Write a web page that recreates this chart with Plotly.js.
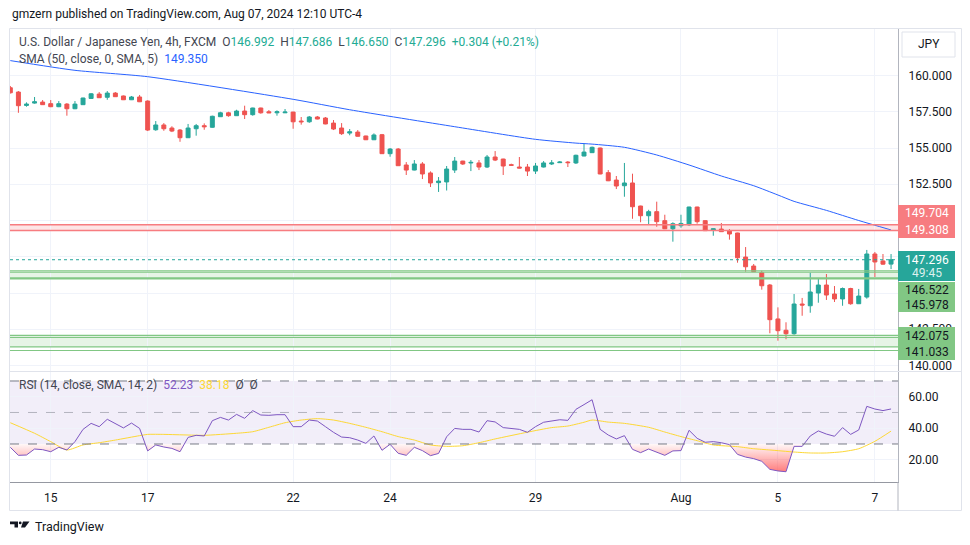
<!DOCTYPE html>
<html><head><meta charset="utf-8">
<script src="https://cdn.plot.ly/plotly-3.0.1.min.js"></script>
<style>html,body{margin:0;padding:0;background:#fff;}#chart{width:970px;height:545px;}</style>
</head><body><div id="chart"></div>
<script>
// ---------- DATA (USDJPY 4h, FXCM) ----------
const openP = [159.16,158.86,157.94,158.10,158.17,158.06,157.85,158.03,157.71,157.99,
158.42,158.72,158.50,158.79,158.59,158.33,158.52,158.24,156.26,156.59,
156.38,156.24,155.71,156.33,156.54,156.43,157.16,157.43,157.23,157.55,
157.30,157.76,157.50,157.43,157.43,157.48,156.86,156.81,157.14,157.07,
156.72,156.38,156.03,156.10,155.83,155.57,155.92,154.61,154.93,153.83,
153.48,153.90,153.28,152.61,152.66,153.48,154.10,153.97,153.97,153.69,
154.38,154.24,153.85,153.69,153.69,153.41,153.69,153.90,153.99,154.03,
153.97,154.45,154.68,155.00,153.30,152.79,152.40,152.59,151.00,150.33,
150.61,149.99,149.43,149.64,149.71,150.93,149.99,149.34,149.41,149.30,
149.14,147.48,146.86,146.40,145.55,143.21,142.43,142.19,144.24,144.12,
145.00,145.55,144.93,144.59,145.31,144.26,144.72,147.69,147.21,146.992];
const highP = [159.28,158.93,158.15,158.52,158.31,158.31,158.24,158.10,158.24,158.47,
158.79,158.86,158.93,158.86,158.62,158.59,158.66,158.29,156.86,156.72,
156.50,156.31,156.66,156.66,156.70,157.23,157.50,157.50,157.64,157.92,
157.78,157.78,157.62,157.60,157.69,157.50,157.14,157.21,157.21,157.14,
156.93,156.72,156.31,156.24,155.85,156.01,155.97,155.00,155.00,154.03,
154.17,154.03,153.39,153.00,153.76,154.38,154.12,154.17,154.17,154.52,
154.79,154.26,153.92,154.38,153.90,153.97,154.10,154.17,154.10,154.10,
154.54,155.34,155.10,155.03,153.48,153.07,153.97,153.23,151.02,150.74,
151.30,150.40,149.88,150.40,150.95,150.95,150.01,149.45,149.83,149.41,
149.16,148.17,147.00,146.54,145.62,144.01,142.98,144.93,144.66,146.40,
145.97,146.31,145.48,145.38,145.36,145.28,147.97,147.83,147.69,147.686];
const lowP = [158.76,157.43,157.85,158.06,157.97,157.82,157.82,157.23,157.68,157.97,
158.40,158.45,158.33,158.52,158.31,158.31,158.17,156.17,156.19,156.19,
156.10,155.43,155.69,155.85,156.26,156.40,157.14,157.16,157.21,157.00,
157.23,157.37,157.41,157.23,157.41,156.33,156.61,156.74,156.98,156.64,
156.24,155.90,155.88,155.79,155.55,155.55,154.59,154.40,153.76,153.14,
153.46,152.86,152.31,151.97,152.07,153.28,153.83,153.41,153.48,153.62,
154.10,153.14,153.78,153.60,153.07,153.21,153.66,153.83,153.97,153.69,
153.90,154.43,154.66,153.19,152.72,152.17,151.64,150.12,149.88,149.74,
149.57,149.41,148.54,149.50,149.62,149.78,149.28,148.95,149.21,148.68,
147.09,146.47,146.45,145.23,142.22,141.71,141.81,142.12,143.43,143.64,
144.33,144.52,144.38,144.12,144.19,144.24,144.61,146.10,146.95,146.650];
const closeP = [158.81,157.92,158.03,158.19,157.99,157.85,158.06,157.71,158.03,158.45,
158.74,158.47,158.79,158.54,158.33,158.52,158.19,156.24,156.59,156.33,
156.17,155.71,156.38,156.54,156.47,157.19,157.43,157.23,157.55,157.30,
157.76,157.43,157.43,157.50,157.48,156.81,156.81,157.14,157.00,156.66,
156.31,155.99,156.12,155.81,155.57,155.90,154.61,154.93,153.78,153.48,
153.90,153.21,152.59,152.72,153.55,154.10,153.90,154.01,153.69,154.38,
154.17,153.76,153.81,153.62,153.41,153.76,153.97,153.97,154.03,153.99,
154.50,154.72,155.05,153.21,152.74,152.38,152.59,150.95,150.33,150.61,
149.92,149.43,149.78,149.80,150.93,149.92,149.30,149.43,149.23,149.07,
147.43,146.81,146.47,145.50,143.16,142.40,142.19,144.24,144.17,145.07,
145.55,144.86,144.59,145.31,144.26,144.79,147.69,147.14,146.99,147.296];

// SMA (50, close, 0, SMA, 5) read at candle positions
const smaIdx = [0,8,17,35,42,55,65,70,72,76,80,84,88,92,95,97,101,105,109];
const smaVal = [161.03,160.36,159.92,158.36,157.64,156.47,155.60,155.34,155.27,155.05,154.52,153.83,153.07,152.40,151.76,151.32,150.70,150.00,149.35];

// RSI (14) per candle
const rsiVal = [27.9,22.8,23.0,26.8,26.4,25.1,27.9,26.2,31.5,39.3,
43.1,41.0,45.7,43.1,40.2,43.3,39.9,25.6,29.4,28.1,
27.2,25.1,34.2,35.5,35.1,44.8,46.9,45.2,48.8,46.3,
51.2,48.4,48.2,48.6,48.6,41.0,41.0,45.2,44.6,41.0,
37.4,34.4,34.0,32.5,30.4,35.1,26.0,29.8,24.1,22.8,
27.9,25.8,22.6,24.0,34.6,39.9,39.3,39.3,37.6,44.8,
44.0,40.4,39.9,39.3,37.4,41.0,43.8,44.6,45.4,45.0,
52.0,55.0,58.1,39.3,35.7,33.2,35.3,26.6,24.5,26.8,
24.9,22.8,25.6,25.8,38.7,33.6,31.1,31.5,30.8,29.6,
23.4,21.7,20.7,19.0,13.9,12.9,12.4,28.5,28.5,35.1,
38.3,36.3,34.9,40.4,36.1,38.9,53.9,52.2,51.2,52.23];
// RSI-based MA (SMA 14)
const maIdx = [0,3,5,7,9,11,13,16,17,19,22,24,28,30,32,34,36,38,40,42,44,46,48,50,52,54,56,58,60,64,67,69,71,72,74,76,79,81,83,85,87,90,92,94,97,99,101,103,105,107,109];
const maVal = [43.5,36.8,31.5,26.2,29.4,30.8,32.5,35.3,36.1,36.1,35.7,35.5,36.8,37.8,40.6,43.5,45.2,46.1,45.2,43.1,40.6,37.8,34.7,32.5,29.4,28.5,28.9,30.8,33.2,37.5,40.4,41.4,43.8,45.2,43.9,43.1,40.6,37.6,34.7,32.1,29.4,28.3,27.0,26.2,24.9,24.3,24.3,25.1,27.0,31.7,38.18];

// time axis labels (candle index of first candle of the day)
const dayTickIdx = [5,17,35,47,65,83,95,107];
const dayTickText = ['15','17','22','24','29','Aug','5','7'];

// price axis ticks (labels hidden by the price tags are left blank)
const priceTicks = [140,142.5,145,147.5,150,152.5,155,157.5,160];
const priceTickShown = [true,true,false,false,false,true,true,true,true];

// drawn zones
const redZone = [149.308, 149.704];
const greenZone1 = [145.978, 146.522];
const greenBox1 = [146.03, 146.43];
const greenZone2 = [141.033, 142.075];
const greenBox2 = [141.28, 141.94];
const lastPrice = 147.296;
const timeLeft = '49:45';
const smaLast = 149.350;
const rsiLast = 52.23, rsiMaLast = 38.18;

// ---------- helpers ----------
const W=970,H=545;
const px = x => x/W, py = y => 1 - y/H;
const idx = openP.map((_,i)=>i);

const UP='#26a69a', DN='#ef5350';
const FONT='Roboto, "Open Sans", sans-serif';

// RSI oversold fill (below 30)
const fx=[], fy=[], fb=[];
for(let i=0;i<rsiVal.length;i++){
  if(i>0){
    const a=rsiVal[i-1], b=rsiVal[i];
    if((a-30)*(b-30)<0){ const t=(30-a)/(b-a); fx.push(i-1+t); fy.push(30); fb.push(30);}
  }
  fx.push(i); fy.push(Math.min(rsiVal[i],30)); fb.push(30);
}

const traces = [
  {type:'candlestick', x:idx, open:openP, high:highP, low:lowP, close:closeP,
   xaxis:'x', yaxis:'y',
   increasing:{line:{color:UP,width:1}, fillcolor:UP},
   decreasing:{line:{color:DN,width:1}, fillcolor:DN},
   whiskerwidth:0, hoverinfo:'skip'},
  {type:'scatter', mode:'lines', x:smaIdx, y:smaVal, xaxis:'x', yaxis:'y',
   line:{color:'#2962ff', width:1, shape:'spline', smoothing:0.6}, hoverinfo:'skip'},
  {type:'scatter', mode:'lines', x:fx, y:fb, xaxis:'x2', yaxis:'y2', line:{width:0}, hoverinfo:'skip'},
  {type:'scatter', mode:'lines', x:fx, y:fy, xaxis:'x2', yaxis:'y2', line:{width:0},
   fill:'tonexty', fillcolor:'rgba(255,82,82,0.35)',
   fillgradient:{type:'vertical', start:10, stop:30,
     colorscale:[[0,'rgba(255,82,82,0.85)'],[1,'rgba(255,82,82,0.04)']]},
   hoverinfo:'skip'},
  {type:'scatter', mode:'lines', x:maIdx, y:maVal, xaxis:'x2', yaxis:'y2',
   line:{color:'#fdd835', width:1, shape:'spline', smoothing:0.6}, hoverinfo:'skip'},
  {type:'scatter', mode:'lines', x:idx, y:rsiVal, xaxis:'x2', yaxis:'y2',
   line:{color:'#7e57c2', width:1}, hoverinfo:'skip'}
];

const xr = [-0.04, 109.86];
const gridC = '#f0f3fa';
const hline = (yv,color,width,extra={}) => Object.assign({type:'line', xref:'x domain', x0:0, x1:1, yref:'y', y0:yv, y1:yv, line:{color, width}}, extra);
const shapes = [
  // RSI band 30-70
  {type:'rect', xref:'x2 domain', x0:0, x1:1, yref:'y2', y0:30, y1:70, fillcolor:'rgba(126,87,194,0.1)', line:{width:0}, layer:'below'},
  {type:'line', xref:'x2 domain', x0:0, x1:1, yref:'y2', y0:70, y1:70, line:{color:'#787b86', width:1, dash:'dash'}},
  {type:'line', xref:'x2 domain', x0:0, x1:1, yref:'y2', y0:50, y1:50, line:{color:'rgba(120,123,134,0.5)', width:1, dash:'dash'}},
  {type:'line', xref:'x2 domain', x0:0, x1:1, yref:'y2', y0:30, y1:30, line:{color:'#787b86', width:1, dash:'dash'}},
  // red zone
  {type:'rect', xref:'x domain', x0:0, x1:1, yref:'y', y0:redZone[0], y1:redZone[1], fillcolor:'rgba(247,124,128,0.2)', line:{width:0}, layer:'below'},
  hline(redZone[0],'#f77c80',1.5), hline(redZone[1],'#f77c80',1.5),
  // green zone 1
  {type:'rect', xref:'x domain', x0:0, x1:1, yref:'y', y0:greenBox1[0], y1:greenBox1[1], fillcolor:'rgba(129,199,132,0.2)', line:{width:0}, layer:'below'},
  hline(greenBox1[0],'#81c784',1.5), hline(greenBox1[1],'#81c784',1.2),
  hline(greenZone1[0],'#81c784',1.5), hline(greenZone1[1],'#81c784',1.2),
  // green zone 2
  {type:'rect', xref:'x domain', x0:0, x1:1, yref:'y', y0:greenBox2[0], y1:greenBox2[1], fillcolor:'rgba(129,199,132,0.2)', line:{width:0}, layer:'below'},
  hline(greenBox2[0],'#81c784',1.2), hline(greenBox2[1],'#81c784',1.2),
  hline(greenZone2[0],'#81c784',1.2), hline(greenZone2[1],'#81c784',1.2),
  // last price dotted
  hline(lastPrice,UP,1,{line:{color:UP,width:1,dash:'dot'}}),
  // frame & separators
  {type:'rect', xref:'paper', yref:'paper', x0:px(9.5), x1:px(961.5), y0:py(28.5), y1:py(510.5), line:{color:'#e0e3eb', width:1}},
  {type:'line', xref:'paper', yref:'paper', x0:px(9.5), x1:px(961.5), y0:py(371.5), y1:py(371.5), line:{color:'#e0e3eb', width:1}},
  {type:'line', xref:'paper', yref:'paper', x0:px(898), x1:px(898), y0:py(482), y1:py(510.5), line:{color:'#b2b5be', width:1}},
  // price labels
  {type:'rect', xref:'paper', yref:'paper', x0:px(898), x1:px(955), y0:py(205), y1:py(238), fillcolor:'#f77c80', line:{width:0}, layer:'above'},
  {type:'rect', xref:'paper', yref:'paper', x0:px(898), x1:px(955), y0:py(251), y1:py(281), fillcolor:UP, line:{width:0}, layer:'above'},
  {type:'rect', xref:'paper', yref:'paper', x0:px(898), x1:px(955), y0:py(282), y1:py(312), fillcolor:'#81c784', line:{width:0}, layer:'above'},
  {type:'rect', xref:'paper', yref:'paper', x0:px(898), x1:px(955), y0:py(327), y1:py(360), fillcolor:'#81c784', line:{width:0}, layer:'above'},
  // JPY button
  {type:'rect', xref:'paper', yref:'paper', x0:px(902), x1:px(955), y0:py(32), y1:py(57), fillcolor:'#ffffff', line:{color:'#e0e3eb', width:1}, layer:'above'},
  // TradingView logo
  {type:'path', xref:'paper', yref:'paper', path:`M${px(10)},${py(521.5)} L${px(18)},${py(521.5)} L${px(18)},${py(527.5)} L${px(14.5)},${py(527.5)} L${px(14.5)},${py(524.3)} L${px(10)},${py(524.3)} Z`, fillcolor:'#131722', line:{width:0}, layer:'above'},
  {type:'circle', xref:'paper', yref:'paper', x0:px(18.8), x1:px(21.6), y0:py(521.5), y1:py(524.3), fillcolor:'#131722', line:{width:0}, layer:'above'},
  {type:'path', xref:'paper', yref:'paper', path:`M${px(23)},${py(521.5)} L${px(29.5)},${py(521.5)} L${px(25)},${py(527.5)} L${px(21)},${py(527.5)} Z`, fillcolor:'#131722', line:{width:0}, layer:'above'}
];

const fmt = v => v.toFixed(3);
const GR='#434651', TE='#22ab94';
const sp='&nbsp;';
const ann = (x,y,text,opts={}) => Object.assign({xref:'paper', yref:'paper', x:px(x), y:py(y), text, showarrow:false, xanchor:'left', yanchor:'middle', font:{family:FONT, size:12, color:GR}}, opts);

const annotations = [
  ann(10,14,'gmzern published on TradingView.com, Aug 07, 2024 12:10 UTC-4',{font:{family:FONT,size:12,color:'#131722'}}),
  ann(17,42.5,`U.S. Dollar / Japanese Yen, 4h, FXCM${sp}${sp}O<span style="color:${TE}">${fmt(openP[109])}</span>${sp}${sp}H<span style="color:${TE}">${fmt(highP[109])}</span>${sp}${sp}L<span style="color:${TE}">${fmt(lowP[109])}</span>${sp}${sp}C<span style="color:${TE}">${fmt(closeP[109])}</span>${sp}${sp}<span style="color:${TE}">+0.304 (+0.21%)</span>`,{font:{family:FONT,size:12,color:GR}}),
  ann(17,59,`SMA (50, close, 0, SMA, 5)${sp}${sp}<span style="color:#2962ff">${fmt(smaLast)}</span>`,{font:{family:FONT,size:12,color:GR}}),
  ann(17,385,`RSI (14, close, SMA, 14, 2)${sp}${sp}<span style="color:#7e57c2">${rsiLast.toFixed(2)}</span>${sp}${sp}<span style="color:#fdd835">${rsiMaLast.toFixed(2)}</span>${sp}${sp}Ø${sp}${sp}Ø`,{font:{family:FONT,size:12,color:GR}}),
  // price-axis labels
  ann(927,213,fmt(redZone[1]),{xanchor:'center',font:{family:FONT,size:12,color:'#ffffff'}}),
  ann(927,230,fmt(redZone[0]),{xanchor:'center',font:{family:FONT,size:12,color:'#ffffff'}}),
  ann(927,259.5,fmt(lastPrice),{xanchor:'center',font:{family:FONT,size:12,color:'#ffffff'}}),
  ann(927,272.5,timeLeft,{xanchor:'center',font:{family:FONT,size:12,color:'rgba(255,255,255,0.85)'}}),
  ann(927,290,fmt(greenZone1[1]),{xanchor:'center',font:{family:FONT,size:12,color:'#131722'}}),
  ann(927,305,fmt(greenZone1[0]),{xanchor:'center',font:{family:FONT,size:12,color:'#131722'}}),
  ann(927,335.5,fmt(greenZone2[1]),{xanchor:'center',font:{family:FONT,size:12,color:'#131722'}}),
  ann(927,352,fmt(greenZone2[0]),{xanchor:'center',font:{family:FONT,size:12,color:'#131722'}}),
  ann(928.5,44.5,'JPY',{xanchor:'center',font:{family:FONT,size:12,color:'#131722'}}),
  ann(33,526.5,'TradingView',{font:{family:FONT,size:12.5,color:'#131722'}})
];

const layout = {
  width:W, height:H, margin:{l:0,r:0,t:0,b:0},
  paper_bgcolor:'#ffffff', plot_bgcolor:'#ffffff',
  showlegend:false, hovermode:false, dragmode:false,
  font:{family:FONT, size:12, color:'#131722'},
  xaxis:{domain:[px(10),px(898)], range:xr, anchor:'y', showticklabels:false,
    tickvals:dayTickIdx, ticks:'', showgrid:true, gridcolor:gridC, zeroline:false,
    rangeslider:{visible:false}, showline:false, fixedrange:true},
  yaxis:{domain:[py(371),py(29)], range:[139.62,163.21], anchor:'x', side:'right',
    tickvals:priceTicks, ticktext:priceTicks.map((v,i)=>priceTickShown[i]?fmt(v):''),
    ticks:'', ticklabelstandoff:7, showgrid:true, gridcolor:gridC, zeroline:false,
    showline:true, linecolor:'#b2b5be', linewidth:1, tickfont:{family:FONT,size:12,color:'#131722'}, fixedrange:true},
  xaxis2:{domain:[px(10),px(898)], range:xr, anchor:'y2', tickvals:dayTickIdx, ticktext:dayTickText,
    ticks:'', ticklabelstandoff:5, showgrid:true, gridcolor:gridC, zeroline:false,
    showline:true, linecolor:'#9598a1', linewidth:1, tickfont:{family:FONT,size:12,color:'#131722'}, fixedrange:true},
  yaxis2:{domain:[py(482),py(372)], range:[5.87,75.71], anchor:'x2', side:'right',
    tickvals:[20,40,60], tickformat:'.2f', ticks:'', ticklabelstandoff:7, showgrid:true, gridcolor:gridC, zeroline:false,
    showline:true, linecolor:'#b2b5be', linewidth:1, tickfont:{family:FONT,size:12,color:'#131722'}, fixedrange:true},
  shapes, annotations
};

Plotly.newPlot('chart', traces, layout, {staticPlot:true, displayModeBar:false});
</script>
</body></html>
